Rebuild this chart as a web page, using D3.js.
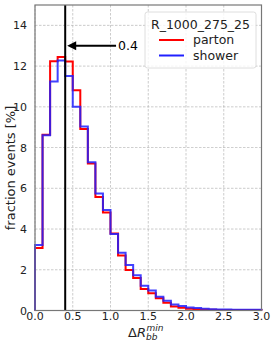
<!DOCTYPE html>
<html><head><meta charset="utf-8">
<script src="https://cdn.jsdelivr.net/npm/d3@7"></script>
<style>body{margin:0;background:#fff}svg{display:block}text{font-family:"DejaVu Sans",sans-serif}</style>
</head><body>
<svg id="c" width="275" height="346"></svg>
<script>
const binEdges = d3.range(0, 3.0001, 0.1).map(v => +v.toFixed(1));
const parton = [3.07,8.63,12.24,12.45,12.22,10.81,8.91,7.22,5.57,4.81,3.78,2.70,1.99,1.60,1.06,0.85,0.60,0.38,0.20,0.14,0.08,0.06,0.05,0.04,0.03,0.03,0.02,0.02,0.02,0.02];
const shower = [3.22,8.60,11.25,12.27,11.52,10.00,9.04,7.28,5.75,4.94,3.76,2.84,2.24,1.73,1.22,0.98,0.68,0.48,0.30,0.22,0.15,0.12,0.08,0.06,0.05,0.05,0.04,0.04,0.04,0.04];
const xTicks = [0.0,0.5,1.0,1.5,2.0,2.5,3.0];
const yTicks = [0,2,4,6,8,10,12,14];
const seriesNames = ["parton","shower"];
const seriesColors = ["#ff0000","#2020ff"];
const legendTitle = "R_1000_275_25";
const cutValue = 0.4;
const annotY = 13;
const annotTextX = 1.1;

const svg = d3.select("#c");
const L = 35, R = 261.5, T = 5, B = 310.5;
const x = d3.scaleLinear().domain([0,3]).range([L,R]);
const y = d3.scaleLinear().domain([0,15]).range([B,T]);

// grid
const g = svg.append("g");
g.selectAll("line.gx").data(xTicks).join("line")
  .attr("x1",d=>x(d)).attr("x2",d=>x(d)).attr("y1",T).attr("y2",B)
  .attr("stroke","#b0b0b0").attr("stroke-width",0.8).attr("stroke-dasharray","2.5,1.5").attr("opacity",0.8);
g.selectAll("line.gy").data(yTicks).join("line")
  .attr("y1",d=>y(d)).attr("y2",d=>y(d)).attr("x1",L).attr("x2",R)
  .attr("stroke","#b0b0b0").attr("stroke-width",0.8).attr("stroke-dasharray","2.5,1.5").attr("opacity",0.8);

// histograms
function stepPath(vals){
  const pts = [[binEdges[0],0]];
  vals.forEach((v,i)=>{pts.push([binEdges[i],v]);pts.push([binEdges[i+1],v]);});
  pts.push([binEdges[vals.length],0]);
  return d3.line().x(d=>x(d[0])).y(d=>y(d[1]))(pts);
}
[parton,shower].forEach((s,i)=>{
  svg.append("path").attr("d",stepPath(s)).attr("fill","none")
    .attr("stroke",seriesColors[i]).attr("stroke-width",2).attr("opacity",i==1?0.85:1);
});

// vertical cut line
svg.append("line").attr("x1",x(cutValue)).attr("x2",x(cutValue)).attr("y1",T).attr("y2",B)
  .attr("stroke","#000").attr("stroke-width",2);

// annotation arrow
const ax0 = x(annotTextX)-2, ax1 = x(cutValue)+2, ay = y(annotY);
svg.append("line").attr("x1",ax0).attr("x2",ax1+7).attr("y1",ay).attr("y2",ay).attr("stroke","#000").attr("stroke-width",2);
svg.append("path").attr("d",`M${ax1},${ay}L${ax1+9},${ay-4.5}L${ax1+9},${ay+4.5}Z`).attr("fill","#000");
svg.append("text").attr("x",x(annotTextX)).attr("y",ay+4.5).attr("font-size",12.5).text(cutValue.toFixed(1));

// frame
svg.append("rect").attr("x",L).attr("y",T).attr("width",R-L).attr("height",B-T)
  .attr("fill","none").attr("stroke","#777").attr("stroke-width",1.2);

// tick labels
svg.selectAll("text.yt").data(yTicks).join("text")
  .attr("x",L-8).attr("y",d=>y(d)+4).attr("text-anchor","end").attr("font-size",11).attr("fill","#222").text(d=>d);
svg.selectAll("text.xt").data(xTicks).join("text")
  .attr("x",d=>x(d)).attr("y",320).attr("text-anchor","middle").attr("font-size",11).attr("fill","#222").text(d=>d.toFixed(1));

// axis labels
svg.append("text").attr("transform",`translate(15,168) rotate(-90)`).attr("text-anchor","middle")
  .attr("font-size",13).attr("fill","#222").text("fraction events [%]");
const xl = svg.append("text").attr("x",128).attr("y",337).attr("font-size",13).attr("fill","#222");
xl.append("tspan").text("Δ");
xl.append("tspan").attr("font-style","italic").text("R");
xl.append("tspan").attr("font-style","italic").attr("font-size",9).attr("dy",3).text("bb");
xl.append("tspan").attr("font-style","italic").attr("font-size",9).attr("dx",-11).attr("dy",-9).text("min");

// legend
const lg = svg.append("g");
lg.append("rect").attr("x",145).attr("y",12).attr("width",111).attr("height",56).attr("rx",2.5)
  .attr("fill","#fff").attr("fill-opacity",0.8).attr("stroke","#d6d6d6").attr("stroke-width",0.8);
lg.append("text").attr("x",200.5).attr("y",29).attr("text-anchor","middle").attr("font-size",12.5).attr("fill","#222").text(legendTitle);
seriesNames.forEach((n,i)=>{
  const yy = 44 + i*15.5;
  lg.append("line").attr("x1",159).attr("x2",184).attr("y1",yy-4).attr("y2",yy-4).attr("stroke",seriesColors[i]).attr("stroke-width",2);
  lg.append("text").attr("x",193).attr("y",yy).attr("font-size",12.5).attr("fill","#222").text(n);
});
</script>
</body></html>
